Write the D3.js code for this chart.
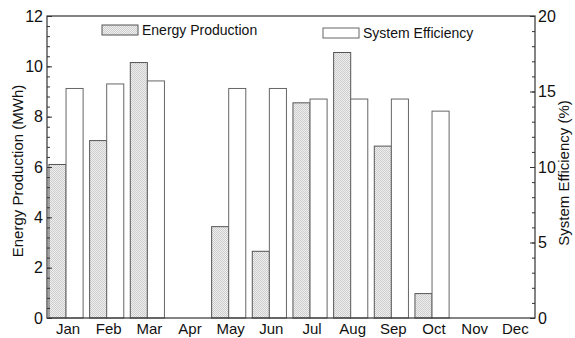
<!DOCTYPE html>
<html>
<head>
<meta charset="utf-8">
<script src="https://cdn.jsdelivr.net/npm/d3@7"></script>
<style>
  body { margin: 0; background: #fff; }
  text { font-family: "Liberation Sans", Arial, sans-serif; fill: #111; }
  .axis path, .axis line { stroke: #333; }
</style>
</head>
<body>
<svg id="chart" width="575" height="338"></svg>
<script>
// data
var months = ['Jan', 'Feb', 'Mar', 'Apr', 'May', 'Jun',
    'Jul', 'Aug', 'Sep', 'Oct', 'Nov', 'Dec'];
var energy = [6.1, 7.05, 10.15, 0, 3.63, 2.65, 8.55, 10.55, 6.83, 0.97, 0, 0];   // MWh
var efficiency = [15.2, 15.5, 15.7, 0, 15.2, 15.2, 14.5, 14.5, 14.5, 13.7, 0, 0]; // %
var leftTicks = [0, 2, 4, 6, 8, 10, 12];
var rightTicks = [0, 5, 10, 15, 20];

var P = { l: 47, r: 535, t: 16, b: 318 }; // plot box

var svg = d3.select('#chart');

//stipple pattern for energy bars
var pat = svg.append('defs').append('pattern')
    .attr('id', 'stipple')
    .attr('patternUnits', 'userSpaceOnUse')
    .attr('width', 2).attr('height', 2);
pat.append('rect').attr('width', 2).attr('height', 2).attr('fill', '#efefef');
pat.append('rect').attr('width', 1).attr('height', 1).attr('fill', '#cdcdcd');
pat.append('rect').attr('x', 1).attr('y', 1)
    .attr('width', 1).attr('height', 1).attr('fill', '#cdcdcd');

//scales
var x = d3.scaleBand().domain(months).range([P.l, P.r])
    .paddingInner(0.16).paddingOuter(0.08).align(0.3);
var xs = d3.scaleBand().domain(['energy', 'eff']).range([0, x.bandwidth()]);
var yL = d3.scaleLinear().domain([0, 12]).range([P.b, P.t]);
var yR = d3.scaleLinear().domain([0, 20]).range([P.b, P.t]);

//bars
svg.append('g').selectAll('rect')
    .data(energy)
    .join('rect')
    .attr('x', function (d, i) { return x(months[i]) + xs('energy'); })
    .attr('y', function (d) { return yL(d); })
    .attr('width', xs.bandwidth())
    .attr('height', function (d) { return P.b - yL(d); })
    .attr('fill', 'url(#stipple)')
    .attr('stroke', function (d) { return d > 0 ? '#555' : 'none'; })
    .attr('stroke-width', 1);

svg.append('g').selectAll('rect')
    .data(efficiency)
    .join('rect')
    .attr('x', function (d, i) { return x(months[i]) + xs('eff'); })
    .attr('y', function (d) { return yR(d); })
    .attr('width', xs.bandwidth())
    .attr('height', function (d) { return P.b - yR(d); })
    .attr('fill', '#fff')
    .attr('stroke', function (d) { return d > 0 ? '#666' : 'none'; })
    .attr('stroke-width', 1);

//frame
svg.append('rect')
    .attr('x', P.l).attr('y', P.t)
    .attr('width', P.r - P.l).attr('height', P.b - P.t)
    .attr('fill', 'none').attr('stroke', '#333').attr('stroke-width', 1.2);

//left axis: major + minor ticks pointing in
var minorL = d3.range(0, 12.01, 0.4).map(function (v) { return +v.toFixed(1); });
svg.append('g').attr('class', 'axis')
    .attr('transform', 'translate(' + P.l + ',0)')
    .call(d3.axisLeft(yL).tickValues(minorL).tickSize(-3).tickFormat(''))
    .call(function (g) { g.select('.domain').remove(); });
svg.append('g').attr('class', 'axis')
    .attr('transform', 'translate(' + P.l + ',0)')
    .call(d3.axisLeft(yL).tickValues(leftTicks).tickSize(-5).tickPadding(4))
    .call(function (g) {
        g.select('.domain').remove();
        g.selectAll('text').style('font-size', '16px').attr('fill', '#111');
    });

//right axis
var minorR = d3.range(0, 21, 1);
svg.append('g').attr('class', 'axis')
    .attr('transform', 'translate(' + P.r + ',0)')
    .call(d3.axisRight(yR).tickValues(minorR).tickSize(-3).tickFormat(''))
    .call(function (g) { g.select('.domain').remove(); });
svg.append('g').attr('class', 'axis')
    .attr('transform', 'translate(' + P.r + ',0)')
    .call(d3.axisRight(yR).tickValues(rightTicks).tickSize(-5).tickPadding(3))
    .call(function (g) {
        g.select('.domain').remove();
        g.selectAll('text').style('font-size', '16px').attr('fill', '#111');
    });

//month labels
svg.append('g').selectAll('text')
    .data(months)
    .join('text')
    .attr('x', function (d) { return x(d) + x.bandwidth() / 2 + 2; })
    .attr('y', 334)
    .attr('text-anchor', 'middle')
    .style('font-size', '15px')
    .text(function (d) { return d; });

//axis titles
svg.append('text')
    .attr('transform', 'translate(23,' + ((P.t + P.b) / 2 + 4) + ') rotate(-90)')
    .attr('text-anchor', 'middle')
    .style('font-size', '15px')
    .text('Energy Production (MWh)');
svg.append('text')
    .attr('transform', 'translate(569,' + ((P.t + P.b) / 2 + 6) + ') rotate(-90)')
    .attr('text-anchor', 'middle')
    .style('font-size', '15px')
    .text('System Efficiency (%)');

//legend
var legend = [
    { name: 'Energy Production', fill: 'url(#stipple)', stroke: '#555', x: 102, y: 25 },
    { name: 'System Efficiency', fill: '#fff', stroke: '#666', x: 323, y: 28 }
];
var lg = svg.append('g').selectAll('g')
    .data(legend)
    .join('g')
    .attr('transform', function (d) { return 'translate(' + d.x + ',' + d.y + ')'; });
lg.append('rect')
    .attr('width', 36).attr('height', 10)
    .attr('fill', function (d) { return d.fill; })
    .attr('stroke', function (d) { return d.stroke; });
lg.append('text')
    .attr('x', 40).attr('y', 10)
    .style('font-size', '14px')
    .text(function (d) { return d.name; });
</script>
</body>
</html>
